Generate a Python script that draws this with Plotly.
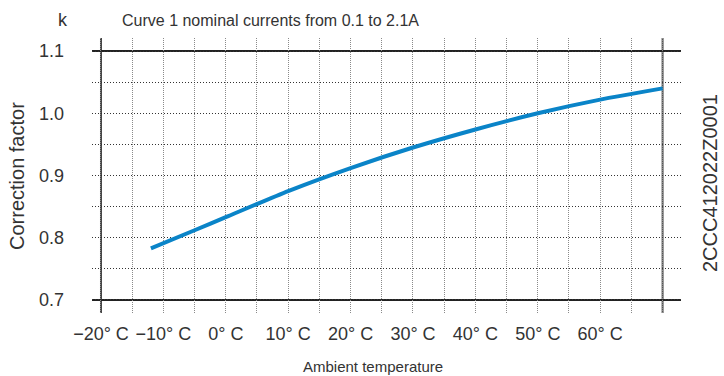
import plotly.graph_objects as go

# curve (ambient temperature in deg C -> correction factor k)
temps = [-12, -5, 0, 10, 20, 30, 40, 50, 60, 70]
k_values = [0.783, 0.812, 0.833, 0.875, 0.912, 0.945, 0.974, 1.0, 1.022, 1.04]

x_grid = list(range(-20, 75, 5))
x_labels = {-20: "−20° C", -10: "−10° C", 0: "0° C", 10: "10° C", 20: "20° C",
            30: "30° C", 40: "40° C", 50: "50° C", 60: "60° C"}
y_grid = [0.7, 0.75, 0.8, 0.85, 0.9, 0.95, 1.0, 1.05, 1.1]
y_labels = {0.7: "0.7", 0.8: "0.8", 0.9: "0.9", 1.0: "1.0", 1.1: "1.1"}

X_LO, X_HI = -20, 70
Y_LO, Y_HI = 0.7, 1.1

W, H = 724, 376
L, R, T, B = 92, 43, 38, 63
TEXT = "#333333"
FONT = "Liberation Sans, Arial, sans-serif"


def px(xp, yp):
    """pixel position -> paper coords"""
    return (xp - L) / (W - L - R), (H - B - yp) / (H - T - B)


fig = go.Figure()
fig.add_trace(go.Scatter(
    x=temps, y=k_values, mode="lines",
    line=dict(color="#0a84c8", width=4, shape="spline", smoothing=0.6),
    hoverinfo="skip", showlegend=False,
))

fig.update_xaxes(
    range=[-21.44, 72.95],
    tickmode="array", tickvals=x_grid,
    ticktext=[x_labels.get(v, "") for v in x_grid],
    showgrid=True, gridcolor="#8a8a8a", griddash="1px,1px", gridwidth=1,
    zeroline=False, showline=False, ticks="",
    ticklabelstandoff=8,
    tickfont=dict(size=18, color=TEXT, family=FONT),
)
fig.update_yaxes(
    range=[0.679, 1.121],
    tickmode="array", tickvals=y_grid,
    ticktext=[y_labels.get(v, "") for v in y_grid],
    showgrid=True, gridcolor="#333333", griddash="1px,2px", gridwidth=1,
    zeroline=False, showline=False, ticks="",
    ticklabelstandoff=27,
    tickfont=dict(size=18, color=TEXT, family=FONT),
)

# solid frame lines at the chart limits
for xv, col in [(X_LO, "#444444"), (X_HI, "#555555")]:
    fig.add_shape(type="line", xref="x", yref="paper", x0=xv, x1=xv, y0=0, y1=1,
                  line=dict(color=col, width=2), layer="below")
for yv in [Y_LO, Y_HI]:
    fig.add_shape(type="line", xref="paper", yref="y", x0=0, x1=1, y0=yv, y1=yv,
                  line=dict(color="#222222", width=2), layer="below")

annos = [
    ("k", 70, 20, "right", 0, 18),
    ("Curve 1 nominal currents from 0.1 to 2.1A", 120, 20, "left", 0, 16),
    ("Correction factor", 17, 176, "center", -90, 20),
    ("Ambient temperature", 373, 366, "center", 0, 15),
    ("2CCC412022Z0001", 710, 183, "center", -90, 20),
]
for text, xp, yp, anchor, ang, size in annos:
    ax, ay = px(xp, yp)
    fig.add_annotation(text=text, xref="paper", yref="paper", x=ax, y=ay,
                       xanchor=anchor, yanchor="middle", textangle=ang,
                       showarrow=False, font=dict(size=size, color=TEXT, family=FONT))

fig.update_layout(
    width=W, height=H,
    margin=dict(l=L, r=R, t=T, b=B),
    paper_bgcolor="white", plot_bgcolor="white",
    showlegend=False,
)

fig.write_html("out.html", config={"displayModeBar": False},
               post_script="document.body.style.margin='0';")
